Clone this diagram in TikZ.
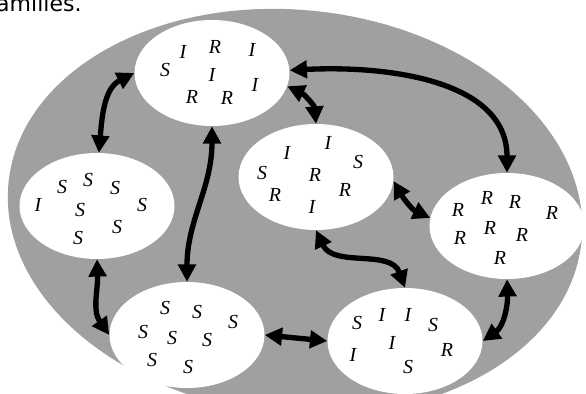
\documentclass[tikz,border=0pt]{standalone}
\usepackage{fontspec}
\setmainfont{Liberation Serif}
\newfontfamily\cutfont{DejaVu Sans}
\usetikzlibrary{shapes.geometric,arrows.meta}
\definecolor{poolgray}{RGB}{160,160,160}
\tikzset{
  group/.style={ellipse, fill=white, minimum width=4.65cm, minimum height=3.18cm, inner sep=0pt},
  agent/.style={font=\fontsize{17}{17}\selectfont\itshape, inner sep=0pt},
  link/.style={line width=0.16cm, {Triangle[length=0.52cm,width=0.52cm]}-{Triangle[length=0.52cm,width=0.52cm]}},
}
\begin{document}
\begin{tikzpicture}[x=0.03cm, y=-0.03cm]
\useasboundingbox (0,0) rectangle (586,394);
\fill [poolgray, rotate around={-6:(295,212)}] (295,212) ellipse [x radius=288, y radius=202];
\node [anchor=base west, font=\cutfont\fontsize{18.8}{20}\selectfont, inner sep=0pt] (cut) at (-4,12) {amilies.};

\node [group] (v1) at (212,73) {};
\node [group] (v2) at (97,206) {};
\node [group] (v3) at (316,177) {};
\node [group] (v4) at (507,226) {};
\node [group] (v5) at (187,335) {};
\node [group] (v6) at (405,341) {};

\node [agent] (l11) at (183,52) {I};
\node [agent] (l12) at (215,47) {R};
\node [agent] (l13) at (252,50) {I};
\node [agent] (l14) at (165,70) {S};
\node [agent] (l15) at (212,75) {I};
\node [agent] (l16) at (255,85) {I};
\node [agent] (l17) at (192,97) {R};
\node [agent] (l18) at (227,98) {R};

\node [agent] (l21) at (62,187) {S};
\node [agent] (l22) at (88,180) {S};
\node [agent] (l23) at (115,188) {S};
\node [agent] (l24) at (38,205) {I};
\node [agent] (l25) at (80,210) {S};
\node [agent] (l26) at (142,205) {S};
\node [agent] (l27) at (117,227) {S};
\node [agent] (l28) at (78,238) {S};

\node [agent] (l31) at (287,153) {I};
\node [agent] (l32) at (328,143) {I};
\node [agent] (l33) at (358,162) {S};
\node [agent] (l34) at (262,173) {S};
\node [agent] (l35) at (315,175) {R};
\node [agent] (l36) at (275,195) {R};
\node [agent] (l37) at (345,190) {R};
\node [agent] (l38) at (312,207) {I};

\node [agent] (l41) at (458,210) {R};
\node [agent] (l42) at (487,198) {R};
\node [agent] (l43) at (515,202) {R};
\node [agent] (l44) at (552,213) {R};
\node [agent] (l45) at (490,228) {R};
\node [agent] (l46) at (460,238) {R};
\node [agent] (l47) at (522,235) {R};
\node [agent] (l48) at (500,258) {R};

\node [agent] (l51) at (165,308) {S};
\node [agent] (l52) at (197,312) {S};
\node [agent] (l53) at (233,322) {S};
\node [agent] (l54) at (143,332) {S};
\node [agent] (l55) at (172,338) {S};
\node [agent] (l56) at (207,340) {S};
\node [agent] (l57) at (152,360) {S};
\node [agent] (l58) at (188,367) {S};

\node [agent] (l61) at (357,323) {S};
\node [agent] (l62) at (382,315) {I};
\node [agent] (l63) at (408,315) {I};
\node [agent] (l64) at (433,325) {S};
\node [agent] (l65) at (392,343) {I};
\node [agent] (l66) at (353,355) {I};
\node [agent] (l67) at (447,350) {R};
\node [agent] (l68) at (408,367) {S};

\draw [link] (v2.88) to[out=85,in=207] (v1.180);
\draw [link] (v1.270) to[out=-90,in=90] (v5.90);
\draw [link] (v1.-10) to[out=-25,in=95] (v3.90);
\draw [link] (v1.2) to[out=3,in=90] (v4.90);
\draw [link] (v3.-3) to[out=-60,in=155] (v4.174);
\draw [link] (v3.270) to[out=-65,in=110] (v6.90);
\draw [link] (v4.270) to[out=-88,in=35] (v6.0);
\draw [link] (v2.270) to[out=-88,in=125] (v5.180);
\draw [link] (v5.0) -- (v6.180);
\end{tikzpicture}
\end{document}
